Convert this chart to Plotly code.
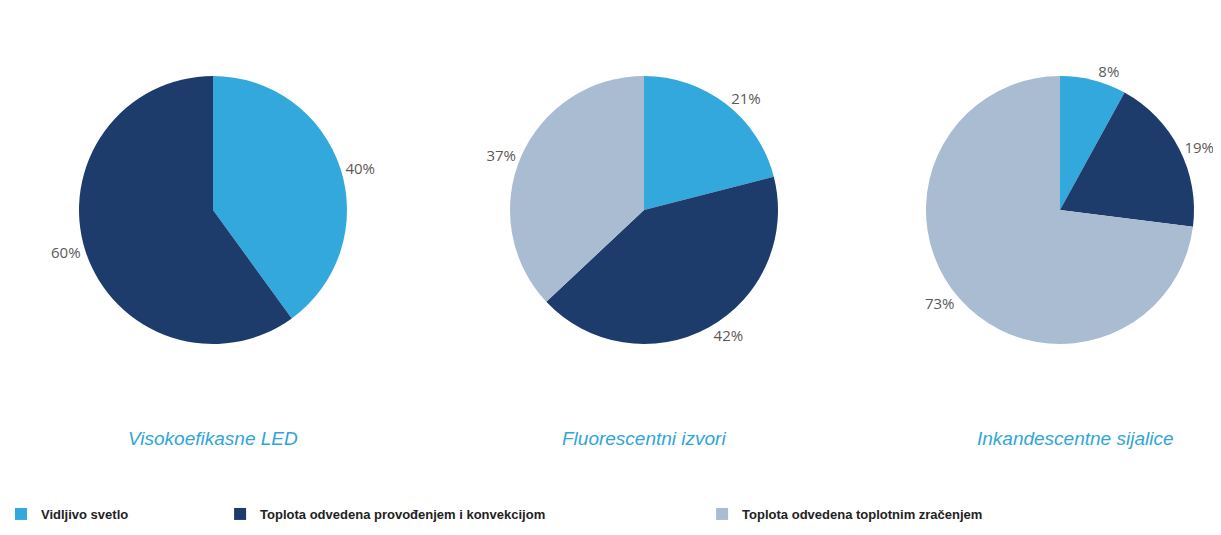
import plotly.graph_objects as go

categories = ["Vidljivo svetlo",
              "Toplota odvedena provođenjem i konvekcijom",
              "Toplota odvedena toplotnim zračenjem"]
led_values = [40, 60, 0]
fluorescent_values = [21, 42, 37]
incandescent_values = [8, 19, 73]
pie_titles = ["Visokoefikasne LED", "Fluorescentni izvori", "Inkandescentne sijalice"]

colors = ["#33a8dd", "#1d3c6c", "#a9bcd2"]

# trailing no-break spaces only widen the legend entries to match the reference spacing
legend_pad = [26, 44, 0]
display_labels = [c + "\u00a0" * p for c, p in zip(categories, legend_pad)]

W, H = 1221, 535
centers_px = [205, 636, 1052]
title_x_px = [205, 636, 1067]
cy_px = 202
radius_px = 134

fig = go.Figure()
for i, vals in enumerate([led_values, fluorescent_values, incandescent_values]):
    cx = centers_px[i]
    fig.add_trace(go.Pie(
        labels=display_labels,
        values=vals,
        sort=False,
        direction="clockwise",
        rotation=0,
        marker=dict(colors=colors, line=dict(width=0)),
        textposition="outside",
        texttemplate=["%{value}%" if v > 0 else "" for v in vals],
        textfont=dict(family="Open Sans", size=15, color="#5a5a5a"),
        hovertemplate="%{value}%<extra></extra>",
        domain=dict(x=[(cx - radius_px) / W, (cx + radius_px) / W],
                    y=[1 - (cy_px + radius_px) / H, 1 - (cy_px - radius_px) / H]),
        showlegend=(i == 2),
    ))
    fig.add_annotation(
        text=pie_titles[i], x=title_x_px[i] / W, y=1 - 430 / H,
        xref="paper", yref="paper",
        showarrow=False, xanchor="center", yanchor="middle",
        font=dict(family="Liberation Sans", size=19, color="#2fa5da", style="italic"),
    )

fig.update_layout(
    width=W, height=H,
    margin=dict(l=0, r=0, t=0, b=0),
    paper_bgcolor="white", plot_bgcolor="white",
    legend=dict(orientation="h", x=0.0, y=1 - 506 / H, xanchor="left", yanchor="middle",
                indentation=-7,
                font=dict(family="Liberation Sans", size=13, color="#222222", weight="bold"),
                traceorder="normal"),
)

fig.write_html("out.html")
